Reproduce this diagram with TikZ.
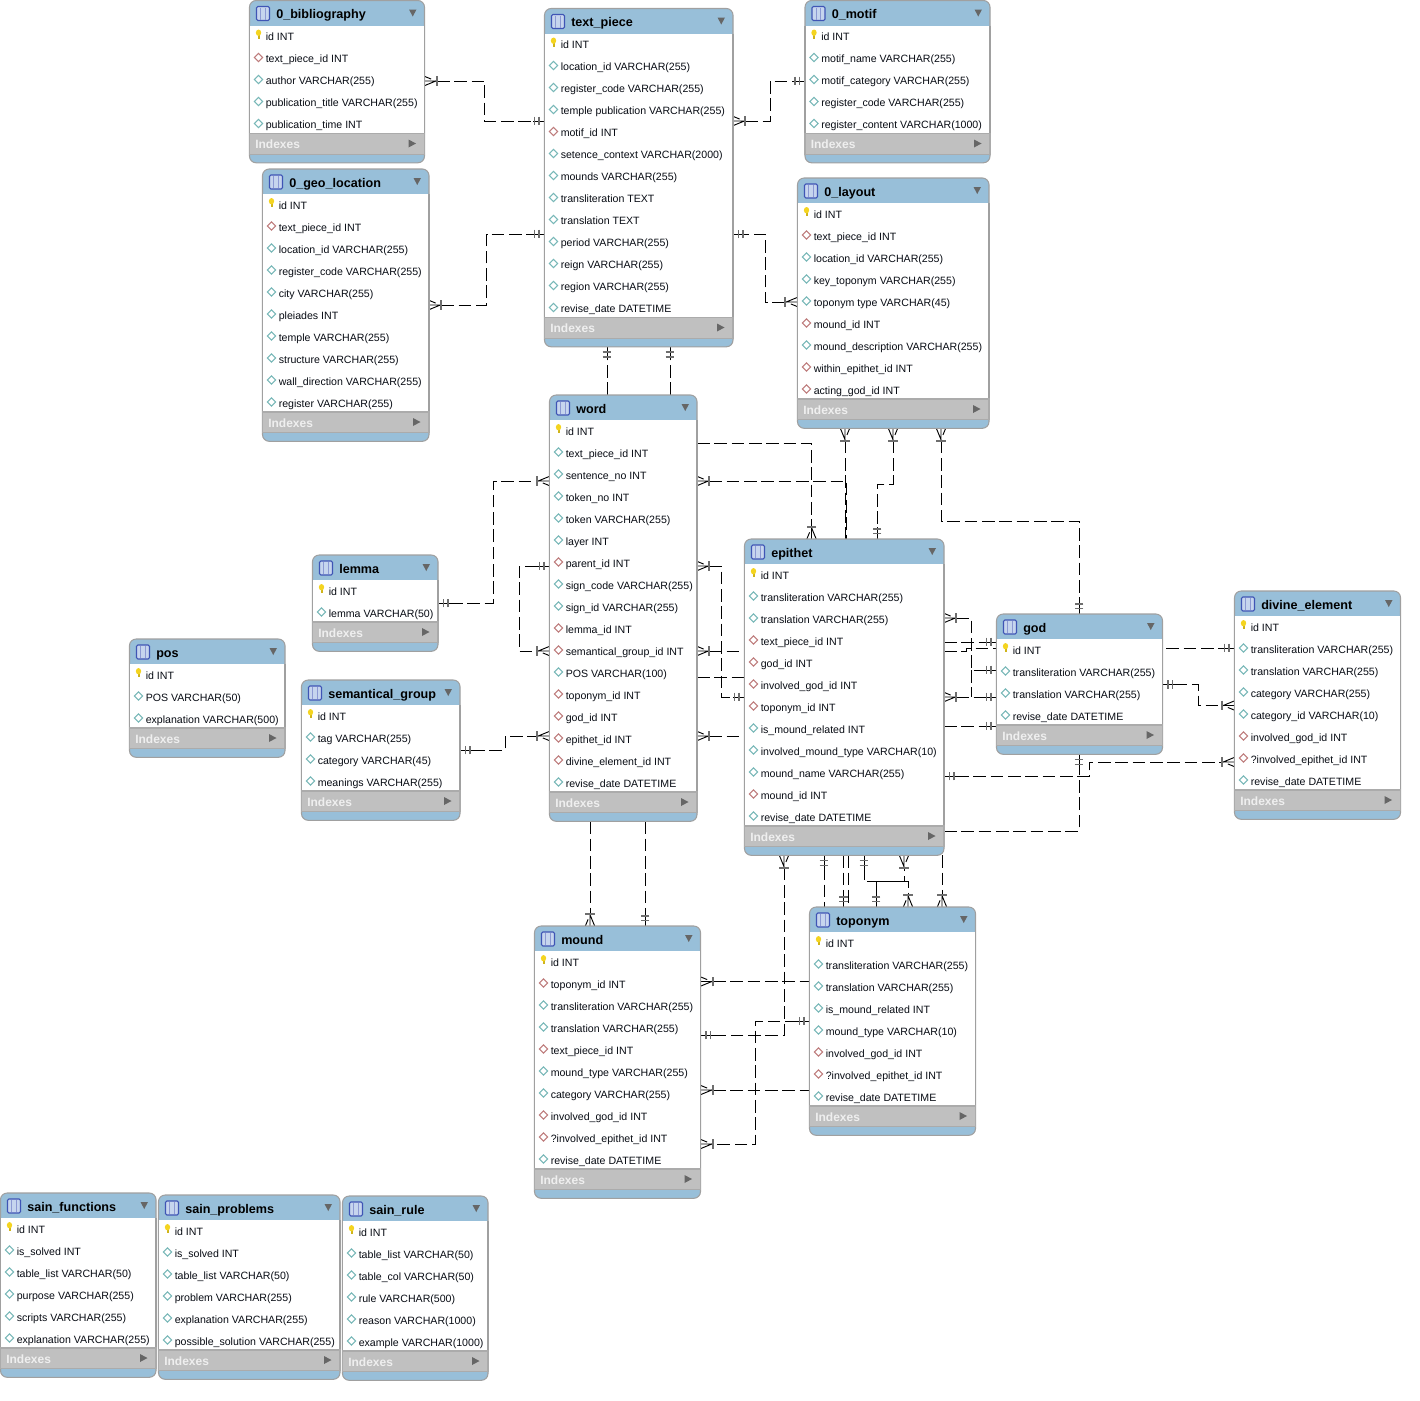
\documentclass[tikz,border=0pt]{standalone}
\usepackage{fontspec}
\setmainfont{Liberation Sans}
\usetikzlibrary{arrows.meta,backgrounds}
\definecolor{headblue}{HTML}{98BFD9}
\definecolor{tableline}{HTML}{A0A0A0}
\definecolor{indexgray}{HTML}{C0C0C0}
\definecolor{indexline}{HTML}{ABABAB}
\definecolor{tipgray}{HTML}{6E6E6E}
\definecolor{marktri}{HTML}{666666}
\definecolor{fieldteal}{HTML}{78B8B8}
\definecolor{fieldred}{HTML}{BE7C7C}
\definecolor{keygold}{HTML}{F4D420}
\definecolor{iconblue}{HTML}{3F55B5}
\definecolor{iconfill}{HTML}{C6D5EE}
\definecolor{indextext}{HTML}{EFEFEF}
\definecolor{rowtext}{HTML}{080C14}

\pgfdeclarearrow{
  name=crowfoot,
  setup code={
    \pgfarrowssettipend{0pt}
    \pgfarrowssetlineend{-9.3pt}
    \pgfarrowssetbackend{-9.5pt}
    \pgfarrowssetvisualbackend{-9.5pt}
  },
  drawing code={
    \pgfsetlinewidth{0.7pt}
    \pgfpathmoveto{\pgfqpoint{0pt}{3.5pt}}
    \pgfpathlineto{\pgfqpoint{-8.5pt}{0pt}}
    \pgfpathlineto{\pgfqpoint{0pt}{-3.5pt}}
    \pgfpathmoveto{\pgfqpoint{0pt}{0pt}}
    \pgfpathlineto{\pgfqpoint{-9.3pt}{0pt}}
    \pgfusepathqstroke
    \pgfsetlinewidth{1.4pt}
    \pgfsetstrokecolor{tipgray}
    \pgfpathmoveto{\pgfqpoint{-9.2pt}{3.7pt}}
    \pgfpathlineto{\pgfqpoint{-9.2pt}{-3.7pt}}
    \pgfusepathqstroke
  }
}
\pgfdeclarearrow{
  name=onebar,
  setup code={
    \pgfarrowssettipend{0pt}
    \pgfarrowssetlineend{-9pt}
    \pgfarrowssetbackend{-9pt}
    \pgfarrowssetvisualbackend{-9pt}
  },
  drawing code={
    \pgfsetlinewidth{0.7pt}
    \pgfpathmoveto{\pgfqpoint{0pt}{0pt}}
    \pgfpathlineto{\pgfqpoint{-9pt}{0pt}}
    \pgfusepathqstroke
    \pgfsetlinewidth{1.1pt}
    \pgfsetstrokecolor{tipgray}
    \pgfpathmoveto{\pgfqpoint{-4pt}{3.2pt}}
    \pgfpathlineto{\pgfqpoint{-4pt}{-3.2pt}}
    \pgfpathmoveto{\pgfqpoint{-7.5pt}{3.2pt}}
    \pgfpathlineto{\pgfqpoint{-7.5pt}{-3.2pt}}
    \pgfusepathqstroke
  }
}

\newcommand{\markk}[2]{%
  \fill[keygold!85!black] ({#1-1},{#2-4}) rectangle ({#1+1},{#2+2});
  \fill[keygold] ({#1},{#2-3.8}) ellipse (2pt and 2.4pt);
}
\newcommand{\markf}[2]{%
  \draw[fieldred,line width=0.8pt,fill=white] ({#1-4.1},{#2-1}) -- ({#1},{#2-5.1}) -- ({#1+4.1},{#2-1}) -- ({#1},{#2+3.1}) -- cycle;
}
\newcommand{\markd}[2]{%
  \draw[fieldteal,line width=0.8pt,fill=white] ({#1-4.1},{#2-1}) -- ({#1},{#2-5.1}) -- ({#1+4.1},{#2-1}) -- ({#1},{#2+3.1}) -- cycle;
}
\newcommand{\dbtable}[7]{%
  \pgfmathsetmacro\tabbar{#3+23+22*#5}
  \node[tablebox,minimum width={(#4)*0.75pt},minimum height={(23+22*#5+29.3)*0.75pt}] (#1) at (#2,#3) {};
  \fill[white] (#2,{#3+25}) rectangle ({#2+#4},\tabbar);
  \draw[tableline,line width=0.8pt] (#2,{#3+25}) -- (#2,\tabbar) ({#2+#4},{#3+25}) -- ({#2+#4},\tabbar);
  \path[draw=indexline,line width=0.8pt,fill=indexgray] (#2,\tabbar) rectangle ({#2+#4},{\tabbar+20.7});
  \draw[iconblue,line width=0.8pt,fill=iconfill,rounded corners=1pt] ({#2+7},{#3+6}) rectangle ({#2+20},{#3+20});
  \draw[iconblue!60,line width=0.5pt] ({#2+11.3},{#3+7}) -- ({#2+11.3},{#3+19}) ({#2+15.6},{#3+7}) -- ({#2+15.6},{#3+19});
  \fill[marktri] ({#2+#4-15.5},{#3+9}) -- ({#2+#4-8},{#3+9}) -- ({#2+#4-11.75},{#3+16}) -- cycle;
  \fill[marktri] ({#2+#4-16},{\tabbar+6}) -- ({#2+#4-8.5},{\tabbar+10}) -- ({#2+#4-16},{\tabbar+14}) -- cycle;
  \node[titletext] (#1-title) at ({#2+26.5},{#3+18}) {#6};
  \node[indexestext] (#1-indexes) at ({#2+5.5},{\tabbar+15}) {Indexes};
  \foreach \kind/\txt [count=\i] in {#7}{
    \node[fieldtext] (#1-\i) at ({#2+16},{#3+18+22*\i}) {\txt};
    \csname mark\kind\endcsname{#2+9}{#3+14+22*\i}
  }
}

\begin{document}
\begin{tikzpicture}[
  x=0.75pt,y=-0.75pt,
  tablebox/.style={draw=tableline,line width=0.8pt,fill=headblue,rounded corners=5pt,anchor=north west,inner sep=0pt,outer sep=0pt},
  titletext/.style={anchor=base west,inner sep=0pt,font=\fontsize{9.45pt}{11pt}\selectfont\bfseries},
  fieldtext/.style={anchor=base west,inner sep=0pt,text=rowtext,font=\fontsize{7.95pt}{10pt}\selectfont},
  indexestext/.style={anchor=base west,inner sep=0pt,text=indextext,font=\fontsize{9pt}{10pt}\selectfont\bfseries},
  rel/.style={line width=0.75pt,dash pattern=on 9.5pt off 3.5pt}
]
  \useasboundingbox (0,0) rectangle (1420,1400);

  \dbtable{bibliography}{249.5}{0.5}{175}{5}{0\_bibliography}{k/id INT,f/text\_piece\_id INT,d/author VARCHAR(255),d/publication\_title VARCHAR(255),d/publication\_time INT}
  \dbtable{textpiece}{544.5}{8.5}{188.5}{13}{text\_piece}{k/id INT,d/location\_id VARCHAR(255),d/register\_code VARCHAR(255),d/temple publication VARCHAR(255),f/motif\_id INT,d/setence\_context VARCHAR(2000),d/mounds VARCHAR(255),d/transliteration TEXT,d/translation TEXT,d/period VARCHAR(255),d/reign VARCHAR(255),d/region VARCHAR(255),d/revise\_date DATETIME}
  \dbtable{motif}{805}{0.5}{185}{5}{0\_motif}{k/id INT,d/motif\_name VARCHAR(255),d/motif\_category VARCHAR(255),d/register\_code VARCHAR(255),d/register\_content VARCHAR(1000)}
  \dbtable{geolocation}{262.5}{169}{166.5}{10}{0\_geo\_location}{k/id INT,f/text\_piece\_id INT,d/location\_id VARCHAR(255),d/register\_code VARCHAR(255),d/city VARCHAR(255),d/pleiades INT,d/temple VARCHAR(255),d/structure VARCHAR(255),d/wall\_direction VARCHAR(255),d/register VARCHAR(255)}
  \dbtable{layout}{797.5}{178}{191.5}{9}{0\_layout}{k/id INT,f/text\_piece\_id INT,d/location\_id VARCHAR(255),d/key\_toponym VARCHAR(255),d/toponym type VARCHAR(45),f/mound\_id INT,d/mound\_description VARCHAR(255),f/within\_epithet\_id INT,f/acting\_god\_id INT}
  \dbtable{word}{549.5}{395}{147.5}{17}{word}{k/id INT,d/text\_piece\_id INT,d/sentence\_no INT,d/token\_no INT,d/token VARCHAR(255),d/layer INT,f/parent\_id INT,d/sign\_code VARCHAR(255),d/sign\_id VARCHAR(255),f/lemma\_id INT,f/semantical\_group\_id INT,d/POS VARCHAR(100),f/toponym\_id INT,f/god\_id INT,f/epithet\_id INT,f/divine\_element\_id INT,d/revise\_date DATETIME}
  \dbtable{lemma}{312.5}{555}{125.5}{2}{lemma}{k/id INT,d/lemma VARCHAR(50)}
  \dbtable{pos}{129.5}{639}{155.5}{3}{pos}{k/id INT,d/POS VARCHAR(50),d/explanation VARCHAR(500)}
  \dbtable{semantical}{301.5}{680}{158.5}{4}{semantical\_group}{k/id INT,d/tag VARCHAR(255),d/category VARCHAR(45),d/meanings VARCHAR(255)}
  \dbtable{epithet}{744.5}{539}{199.5}{12}{epithet}{k/id INT,d/transliteration VARCHAR(255),d/translation VARCHAR(255),f/text\_piece\_id INT,f/god\_id INT,f/involved\_god\_id INT,f/toponym\_id INT,d/is\_mound\_related INT,d/involved\_mound\_type VARCHAR(10),d/mound\_name VARCHAR(255),f/mound\_id INT,d/revise\_date DATETIME}
  \dbtable{god}{996.5}{614}{166}{4}{god}{k/id INT,d/transliteration VARCHAR(255),d/translation VARCHAR(255),d/revise\_date DATETIME}
  \dbtable{divine}{1234.5}{591}{166}{8}{divine\_element}{k/id INT,d/transliteration VARCHAR(255),d/translation VARCHAR(255),d/category VARCHAR(255),d/category\_id VARCHAR(10),f/involved\_god\_id INT,f/?involved\_epithet\_id INT,d/revise\_date DATETIME}
  \dbtable{toponym}{809.5}{907}{166}{8}{toponym}{k/id INT,d/transliteration VARCHAR(255),d/translation VARCHAR(255),d/is\_mound\_related INT,d/mound\_type VARCHAR(10),f/involved\_god\_id INT,f/?involved\_epithet\_id INT,d/revise\_date DATETIME}
  \dbtable{mound}{534.5}{926}{166}{10}{mound}{k/id INT,f/toponym\_id INT,d/transliteration VARCHAR(255),d/translation VARCHAR(255),f/text\_piece\_id INT,d/mound\_type VARCHAR(255),d/category VARCHAR(255),f/involved\_god\_id INT,f/?involved\_epithet\_id INT,d/revise\_date DATETIME}
  \dbtable{sainfunctions}{0.5}{1193}{155.5}{6}{sain\_functions}{k/id INT,d/is\_solved INT,d/table\_list VARCHAR(50),d/purpose VARCHAR(255),d/scripts VARCHAR(255),d/explanation VARCHAR(255)}
  \dbtable{sainproblems}{158.5}{1195}{181.5}{6}{sain\_problems}{k/id INT,d/is\_solved INT,d/table\_list VARCHAR(50),d/problem VARCHAR(255),d/explanation VARCHAR(255),d/possible\_solution VARCHAR(255)}
  \dbtable{sainrule}{342.5}{1196}{145.5}{6}{sain\_rule}{k/id INT,d/table\_list VARCHAR(50),d/table\_col VARCHAR(50),d/rule VARCHAR(500),d/reason VARCHAR(1000),d/example VARCHAR(1000)}

  \begin{scope}[on background layer]
    \draw[rel,crowfoot-onebar] (bibliography.east |- 0,81) -- (484.5,81) -- (484.5,121) -- (textpiece.west |- 0,121);
    \draw[rel,crowfoot-onebar] (geolocation.east |- 0,305) -- (486.5,305) -- (486.5,234) -- (textpiece.west |- 0,234);
    \draw[rel,crowfoot-onebar] (textpiece.east |- 0,121) -- (770,121) -- (770,81) -- (motif.west |- 0,81);
    \draw[rel,crowfoot-onebar] (layout.west |- 0,302) -- (765,302) -- (765,234) -- (textpiece.east |- 0,234);
    \draw[rel,-onebar] (word.north -| 607,0) -- (textpiece.south -| 607,0);
    \draw[rel,-onebar] (word.north -| 670,0) -- (textpiece.south -| 670,0);
    \draw[rel,-crowfoot] (word.east |- 0,443) -- (811.5,443) -- (epithet.north -| 811.5,0);
    \draw[rel,crowfoot-] (word.east |- 0,481) -- (846.5,481) -- (epithet.north -| 846.5,0);
    \draw[rel,crowfoot-] (layout.south -| 845,0) -- (epithet.north -| 845,0);
    \draw[rel,crowfoot-onebar] (layout.south -| 893,0) -- (893,484) -- (877,484) -- (epithet.north -| 877,0);
    \draw[rel,crowfoot-onebar] (layout.south -| 941,0) -- (941,521) -- (1079,521) -- (god.north -| 1079,0);
    \draw[rel,crowfoot-onebar] (word.east |- 0,566) -- (721,566) -- (721,697) -- (epithet.west |- 0,697);
    \draw[rel,crowfoot-] (word.east |- 0,651) -- (epithet.west |- 0,651);
    \draw[rel] (word.east |- 0,677) -- (epithet.west |- 0,677);
    \draw[rel,crowfoot-] (word.east |- 0,736) -- (epithet.west |- 0,736);
    \draw[rel,onebar-crowfoot] (lemma.east |- 0,603) -- (493,603) -- (493,481) -- (word.west |- 0,481);
    \draw[rel,onebar-crowfoot] (word.west |- 0,566) -- (519,566) -- (519,651) -- (word.west |- 0,651);
    \draw[rel,onebar-crowfoot] (semantical.east |- 0,750) -- (505,750) -- (505,736) -- (word.west |- 0,736);
    \draw[rel,crowfoot-onebar] (epithet.east |- 0,618) -- (971,618) -- (971,670) -- (god.west |- 0,670);
    \draw[rel,-onebar] (epithet.east |- 0,642) -- (god.west |- 0,642);
    \draw[rel,-onebar] (epithet.east |- 0,651) -- (966,651) -- (966,648) -- (divine.west |- 0,648);
    \draw[rel,crowfoot-onebar] (epithet.east |- 0,697) -- (god.west |- 0,697);
    \draw[rel] (971,670) -- (971,697);
    \draw[rel,-onebar] (epithet.east |- 0,726) -- (god.west |- 0,726);
    \draw[rel,onebar-crowfoot] (epithet.east |- 0,776) -- (1089,776) -- (1089,762) -- (divine.west |- 0,762);
    \draw[rel,-onebar] (epithet.east |- 0,831) -- (1079,831) -- (god.south -| 1079,0);
    \draw[rel,onebar-crowfoot] (god.east |- 0,684.5) -- (1198,684.5) -- (1198,705.5) -- (divine.west |- 0,705.5);
    \draw[rel,crowfoot-onebar] (epithet.south -| 784,0) -- (784,1035) -- (mound.east |- 0,1035);
    \draw[rel,onebar-] (epithet.south -| 824,0) -- (toponym.north -| 824,0);
    \draw[rel,-onebar] (epithet.south -| 843.5,0) -- (toponym.north -| 843.5,0);
    \draw[rel] (epithet.south -| 848.5,0) -- (toponym.north -| 848.5,0);
    \draw[rel,onebar-crowfoot] (epithet.south -| 864,0) -- (864,881.5) -- (908,881.5) -- (toponym.north -| 908,0);
    \draw[rel,onebar-crowfoot] (toponym.north -| 876,0) -- (876,881.5) -- (904,881.5) -- (epithet.south -| 904,0);
    \draw[rel,-crowfoot] (epithet.south -| 942,0) -- (toponym.north -| 942,0);
    \draw[rel,crowfoot-] (mound.east |- 0,981.5) -- (toponym.west |- 0,981.5);
    \draw[rel,onebar-crowfoot] (toponym.west |- 0,1021) -- (755,1021) -- (755,1144) -- (mound.east |- 0,1144);
    \draw[rel,crowfoot-] (mound.east |- 0,1090) -- (toponym.west |- 0,1090);
    \draw[rel,-crowfoot] (word.south -| 590,0) -- (mound.north -| 590,0);
    \draw[rel,-onebar] (word.south -| 645,0) -- (mound.north -| 645,0);
  \end{scope}
\end{tikzpicture}
\end{document}
